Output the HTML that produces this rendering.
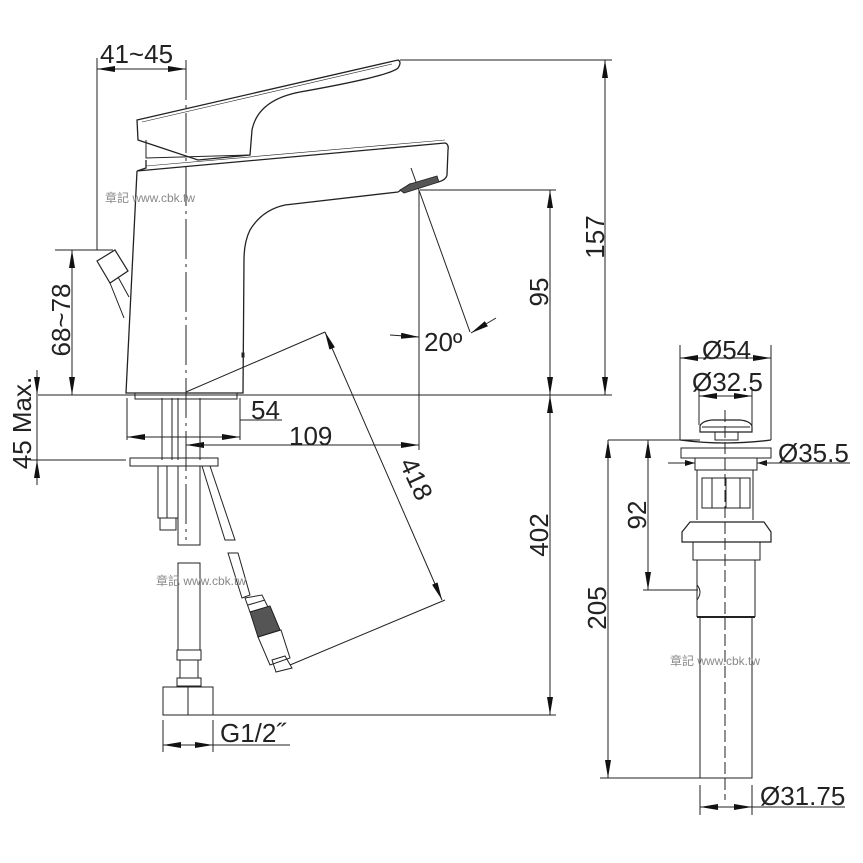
<!DOCTYPE html>
<html><head><meta charset="utf-8"><style>
html,body{margin:0;padding:0;background:#fff;}
svg{display:block;}
text{font-family:"Liberation Sans",sans-serif;fill:#222;}
.w{font-family:"Liberation Sans","Noto Sans CJK TC",sans-serif;fill:#888;font-size:12px;}
</style></head><body>
<svg width="863" height="863" viewBox="0 0 863 863" xmlns="http://www.w3.org/2000/svg">
<defs>
<marker id="a" viewBox="0 0 10 6" refX="10" refY="3" markerWidth="10" markerHeight="6" markerUnits="userSpaceOnUse" orient="auto-start-reverse"><path d="M0,0 L10,3 L0,6 Z" fill="#111"/></marker>
<marker id="b" viewBox="0 0 18 6" refX="18" refY="3" markerWidth="18" markerHeight="6" markerUnits="userSpaceOnUse" orient="auto-start-reverse"><path d="M0,0 L18,3 L0,6 Z" fill="#111"/></marker>
</defs>
<g stroke="#222" stroke-width="1" fill="none">
<line x1="38" y1="395" x2="612" y2="395"/>
<line x1="400" y1="60" x2="612" y2="60"/>
<line x1="420" y1="190" x2="556" y2="190"/>
<line x1="212" y1="715" x2="556" y2="715"/>
<line x1="30" y1="460" x2="126" y2="460"/>
<line x1="55" y1="250" x2="113" y2="250"/>
<line x1="97" y1="58" x2="97" y2="250"/>
<line x1="186" y1="60" x2="186" y2="540" stroke-dasharray="40,5,3,5"/>
<line x1="97" y1="69" x2="186" y2="69" marker-start="url(#b)" marker-end="url(#b)"/>
<line x1="605" y1="60" x2="605" y2="395" marker-start="url(#b)" marker-end="url(#b)"/>
<line x1="550" y1="190" x2="550" y2="395" marker-start="url(#b)" marker-end="url(#b)"/>
<line x1="550" y1="395" x2="550" y2="715" marker-start="url(#b)" marker-end="url(#b)"/>
<line x1="72" y1="250" x2="72" y2="395" marker-start="url(#b)" marker-end="url(#b)"/>
<line x1="37" y1="370" x2="37" y2="395" marker-end="url(#b)"/>
<line x1="37" y1="485" x2="37" y2="460" marker-end="url(#b)"/>
<line x1="37" y1="395" x2="37" y2="460"/>
<line x1="127" y1="398" x2="127" y2="440"/>
<line x1="240" y1="398" x2="240" y2="440"/>
<line x1="127" y1="437" x2="240" y2="437" marker-start="url(#b)" marker-end="url(#b)"/>
<line x1="240" y1="420" x2="282" y2="420"/>
<line x1="186" y1="445" x2="419" y2="445" marker-start="url(#b)" marker-end="url(#b)"/>
<line x1="419" y1="190" x2="419" y2="450"/>
<line x1="411" y1="168" x2="470" y2="332"/>
<line x1="390" y1="335" x2="419" y2="337" marker-end="url(#b)"/>
<line x1="496" y1="318" x2="471" y2="333" marker-end="url(#b)"/>
<line x1="186" y1="392" x2="325" y2="332"/>
<line x1="325" y1="332" x2="442" y2="600" marker-start="url(#b)" marker-end="url(#b)"/>
<line x1="290" y1="665" x2="445" y2="600"/>
<line x1="163" y1="720" x2="163" y2="752"/>
<line x1="213" y1="720" x2="213" y2="752"/>
<line x1="163" y1="745" x2="213" y2="745" marker-start="url(#b)" marker-end="url(#b)"/>
<line x1="213" y1="745" x2="290" y2="745"/>
<path d="M137,120 L398,60 Q402,62 398,68 Q390,76 300,92 Q258,100 252,130 L250,155 L198,160 L138,140 Z" stroke-width="1.3"/>
<path d="M142,122 L392,64" stroke-width="0.6"/>
<path d="M146,140 L146,158 L250,155" />
<path d="M146,160 L146,168 L137,171 L445,143 Q449,144 448,150 L447,175 Q446,180 438,182 L410,184 Q404,188 398,192 L285,205 Q262,210 250,230 Q244,242 244,260 L243,393 L126,393 L137,171" stroke-width="1.3"/>
<path d="M146,166 L445,140" stroke-width="0.6"/>
<path d="M400,190 L410,184 L437,176 L439,182 L404,193 Z" fill="#555" stroke-width="0.8"/>
<rect x="242" y="353" width="2" height="4" fill="#222"/>
<path d="M135,393 L135,399 L237,399 L237,393"/>
<path d="M97,261 L115,250 L128,271 L110,283 Z" stroke-width="1.2"/>
<path d="M110,283 L124,318 M118,277 L129,297"/>
<path d="M162,398 L162,460 M172,398 L172,460 M178,398 L178,460 M200,398 L200,460"/>
<rect x="130" y="458" width="88" height="8"/>
<path d="M158,466 L158,518 L178,518 M167,466 L167,518 M160,518 L160,530 L176,530 L176,518"/>
<path d="M178,466 L178,545 L200,545 L200,466"/>
<path d="M202,466 L225,540 L235,540 L210,466"/>
<path d="M228,553 L238,553 L250,595 L242,598 Z"/>
<path d="M245,598 L262,595 L268,607 L250,612 Z M248,605 L265,600"/>
<path d="M250,612 L270,606 L280,630 L258,637 Z" fill="#555"/>
<path d="M258,637 L281,630 L290,658 L270,665 Z"/>
<path d="M272,660 L285,656 L292,668 L276,672 Z"/>
<path d="M178,563 L200,563 L200,650 L178,650 Z"/>
<path d="M177,650 L201,650 L201,660 L177,660 Z M180,660 L180,678 L198,678 L198,660 M177,678 L201,678 L201,686 L177,686 Z"/>
<rect x="163" y="687" width="50" height="28"/>
<line x1="188" y1="687" x2="188" y2="715"/>
<line x1="725" y1="410" x2="725" y2="800" stroke-dasharray="12,4"/>
<line x1="680" y1="345" x2="680" y2="440"/>
<line x1="771" y1="345" x2="771" y2="440"/>
<line x1="680" y1="358" x2="771" y2="358" marker-start="url(#b)" marker-end="url(#b)"/>
<line x1="699" y1="390" x2="699" y2="425"/>
<line x1="752" y1="390" x2="752" y2="425"/>
<line x1="699" y1="396" x2="752" y2="396" marker-start="url(#b)" marker-end="url(#b)"/>
<path d="M700,432 L700,426 Q702,421 712,420 L740,420 Q750,421 752,426 L752,432 Z" stroke-width="1.2"/>
<path d="M702,427 L750,427"/>
<path d="M715,432 L715,440 L738,440 L738,432"/>
<path d="M680,440 Q725,446 771,440" stroke-width="1.3"/>
<line x1="608" y1="440" x2="700" y2="440"/>
<rect x="681" y="448" width="90" height="10"/>
<line x1="668" y1="463" x2="695" y2="463" marker-end="url(#a)"/>
<line x1="780" y1="463" x2="757" y2="463" marker-end="url(#a)"/>
<line x1="757" y1="463" x2="850" y2="463"/>
<path d="M695,458 L695,470 L757,470 L757,458 M697,470 L697,520 M753,470 L753,520"/>
<rect x="702" y="478" width="48" height="30"/>
<path d="M712,478 L712,508 M726,478 L726,508 M740,478 L740,508"/>
<path d="M690,522 L764,522 L771,532 L771,542 L682,542 L682,532 Z" stroke-width="1.2"/>
<path d="M693,542 L693,560 L760,560 L760,542 M697,560 L697,617 M755,560 L755,617"/>
<path d="M697,617 L755,617" stroke-width="2"/>
<path d="M700,617 L700,778 L752,778 L752,617"/>
<path d="M697,585 Q703,592 697,600"/>
<line x1="608" y1="440" x2="608" y2="778" marker-start="url(#b)" marker-end="url(#b)"/>
<line x1="600" y1="778" x2="700" y2="778"/>
<line x1="648" y1="440" x2="648" y2="590" marker-start="url(#b)" marker-end="url(#b)"/>
<line x1="643" y1="590" x2="698" y2="590"/>
<line x1="700" y1="785" x2="700" y2="815"/>
<line x1="752" y1="785" x2="752" y2="815"/>
<line x1="700" y1="807" x2="752" y2="807" marker-start="url(#b)" marker-end="url(#b)"/>
<line x1="752" y1="807" x2="845" y2="807"/>
</g>
<g font-size="26">
<text x="100" y="63">41~45</text>
<text x="251" y="419">54</text>
<text x="289" y="445">109</text>
<text x="424" y="351">20º</text>
<text x="220" y="742">G1/2˝</text>
<text x="702" y="359">Ø54</text>
<text x="692" y="391">Ø32.5</text>
<text x="778" y="462">Ø35.5</text>
<text x="760" y="805">Ø31.75</text>
<text transform="translate(604,237) rotate(-90)" text-anchor="middle">157</text>
<text transform="translate(548,292) rotate(-90)" text-anchor="middle">95</text>
<text transform="translate(548,535) rotate(-90)" text-anchor="middle">402</text>
<text transform="translate(70,320) rotate(-90)" text-anchor="middle">68~78</text>
<text transform="translate(31,423) rotate(-90)" text-anchor="middle">45 Max.</text>
<text transform="translate(606,608) rotate(-90)" text-anchor="middle">205</text>
<text transform="translate(646,515) rotate(-90)" text-anchor="middle">92</text>
<text transform="translate(399,463) rotate(65)">418</text>
</g>
<text class="w" x="105" y="202">章記 www.cbk.tw</text>
<text class="w" x="156" y="585">章記 www.cbk.tw</text>
<text class="w" x="670" y="665">章記 www.cbk.tw</text>
</svg>
</body></html>
